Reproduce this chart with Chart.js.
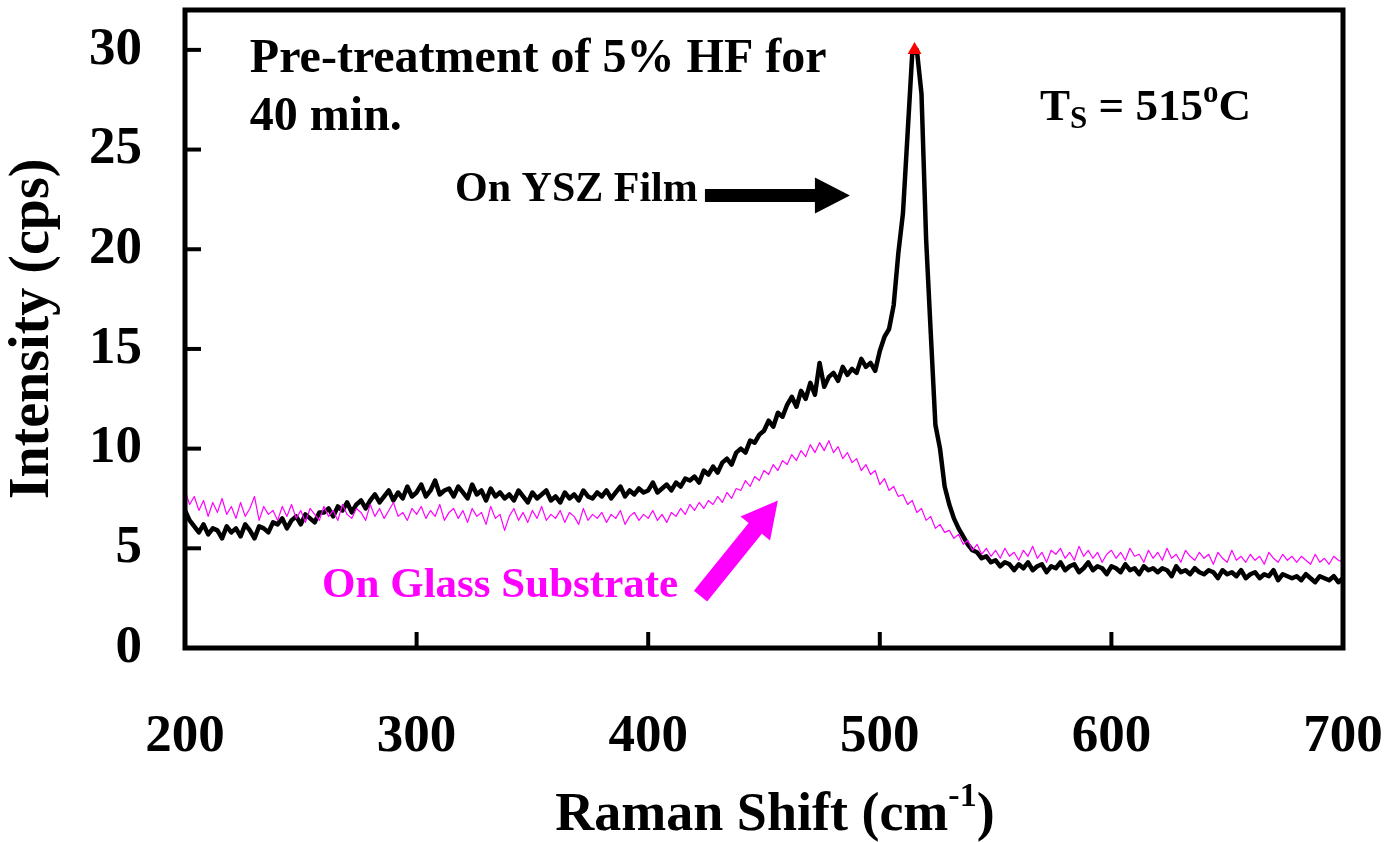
<!DOCTYPE html>
<html><head><meta charset="utf-8">
<script src="https://cdn.jsdelivr.net/npm/chart.js@4.4.1/dist/chart.umd.min.js"></script>
<style>html,body{margin:0;padding:0;background:#fff;overflow:hidden}canvas{display:block}</style>
</head><body>
<canvas id="c" width="1388" height="842"></canvas>
<script>
// Raman shift sampling grid (cm-1)
const shiftStart = 200;
const shiftStep = 2;

// On YSZ Film (black), intensity in cps, 200..700 step 2
const yszFilm = [
6.9, 6.4, 6.1, 5.8, 6.2, 5.7, 6.0, 5.9, 5.5, 6.1,
5.8, 6.0, 5.6, 6.2, 5.9, 5.5, 6.1, 6.0, 5.8, 6.3,
6.2, 6.5, 6.0, 6.4, 6.6, 6.2, 6.7, 6.5, 6.3, 6.8,
6.8, 7.0, 6.6, 7.1, 6.9, 7.3, 6.8, 7.2, 7.4, 7.0,
7.4, 7.7, 7.3, 7.6, 7.9, 7.4, 7.8, 7.5, 8.1, 7.6,
7.8, 8.2, 7.6, 7.9, 8.4, 7.7, 7.9, 8.0, 7.6, 8.1,
7.8, 7.5, 8.2, 7.7, 7.9, 7.4, 8.0, 7.6, 7.8, 7.5,
7.7, 7.4, 7.9, 7.6, 7.3, 7.8, 7.5, 7.7, 7.9, 7.4,
7.6, 7.3, 7.8, 7.5, 7.7, 7.4, 7.9, 7.6, 7.5, 7.8,
7.6, 7.9, 7.5, 7.8, 8.1, 7.6, 7.9, 7.7, 8.0, 7.8,
7.9, 8.3, 7.8, 8.0, 8.2, 7.9, 8.3, 8.1, 8.5, 8.4,
8.6, 8.3, 8.9, 8.7, 9.1, 8.8, 9.3, 9.5, 9.2, 9.8,
10.0, 9.8, 10.4, 10.3, 10.7, 10.9, 11.4, 11.1, 11.8, 11.6,
12.2, 12.6, 12.1, 12.9, 12.5, 13.3, 12.7, 14.3, 13.1, 13.6,
13.8, 13.4, 14.1, 13.7, 14.0, 13.8, 14.5, 14.1, 14.3, 13.9,
14.9, 15.6, 16.0, 17.2, 19.8, 21.8, 25.8, 29.8, 30.0, 27.8,
20.5, 15.8, 11.2, 10.0, 8.1, 7.2, 6.5, 6.0, 5.6, 5.2,
4.9, 4.8, 4.5, 4.6, 4.3, 4.4, 4.1, 4.3, 4.2, 3.9,
4.2, 4.0, 4.3, 3.9, 4.1, 4.2, 3.8, 4.1, 4.0, 4.3,
3.9, 4.1, 4.2, 3.8, 4.0, 4.3, 3.9, 4.1, 4.0, 3.7,
4.1, 4.0, 3.8, 4.2, 3.9, 4.0, 3.7, 4.1, 3.9, 4.0,
3.8, 4.0, 3.9, 3.6, 4.1, 3.8, 3.9, 3.7, 4.0, 3.8,
3.7, 3.9, 3.8, 3.5, 3.9, 3.7, 3.8, 3.6, 3.9, 3.5,
3.7, 3.8, 3.5, 3.7, 3.6, 3.9, 3.4, 3.7, 3.6, 3.5,
3.6, 3.4, 3.7, 3.5, 3.3, 3.6, 3.5, 3.4, 3.6, 3.3,
3.5
];

// On Glass Substrate (magenta), intensity in cps, 200..700 step 2
const glassSubstrate = [
7.9, 7.2, 7.6, 6.9, 7.4, 6.6, 7.3, 6.8, 7.5, 6.7,
7.1, 6.5, 7.3, 6.6, 7.0, 7.6, 6.4, 7.1, 6.7, 6.9,
6.4, 7.1, 6.6, 7.2, 6.5, 6.9, 6.3, 7.0, 6.7, 6.4,
7.1, 6.6, 6.9, 6.4, 7.2, 6.7, 6.5, 7.0, 6.8, 6.4,
7.2, 6.6, 7.0, 6.5, 6.9, 7.3, 6.6, 6.8, 6.4, 7.0,
6.7, 7.1, 6.5, 6.9, 6.6, 7.2, 6.4, 6.8, 7.0, 6.5,
6.9, 6.3, 7.0, 6.6, 6.8, 6.2, 7.1, 6.5, 6.7, 5.9,
6.6, 7.0, 6.4, 6.8, 6.3, 6.9, 6.5, 7.1, 6.4, 6.7,
6.5, 6.9, 6.3, 6.8, 6.6, 6.2, 7.0, 6.4, 6.7, 6.5,
6.8, 6.3, 6.7, 6.5, 6.9, 6.2, 6.6, 6.8, 6.4, 6.7,
6.5, 6.9, 6.4, 6.7, 6.3, 6.8, 6.6, 7.0, 6.7, 7.2,
6.9, 7.3, 7.0, 7.4, 7.2, 7.6, 7.3, 7.8, 7.5, 8.0,
7.9, 8.4, 8.1, 8.6, 8.4, 8.9, 8.7, 9.2, 8.9, 9.4,
9.2, 9.7, 9.4, 9.9, 9.6, 10.2, 9.8, 10.3, 9.9, 10.4,
9.8, 10.1, 9.5, 9.8, 9.3, 9.5, 8.9, 9.2, 8.7, 8.9,
8.2, 8.5, 7.9, 8.1, 7.6, 7.7, 7.2, 7.4, 6.8, 7.0,
6.4, 6.6, 6.0, 6.2, 5.8, 5.9, 5.5, 5.7, 5.2, 5.4,
4.9, 5.2, 4.7, 5.0, 4.6, 4.9, 4.5, 5.0, 4.6, 4.8,
4.4, 4.9, 4.6, 5.1, 4.5, 4.8, 4.3, 4.9, 4.7, 5.0,
4.5, 4.8, 4.4, 5.1, 4.6, 4.9, 4.5, 4.8, 4.3, 4.7,
4.9, 4.5, 4.8, 4.4, 5.0, 4.6, 4.7, 4.3, 4.9, 4.5,
4.8, 4.4, 5.0, 4.5, 4.7, 4.3, 4.9, 4.6, 4.4, 4.8,
4.5, 4.7, 4.2, 4.8, 4.5, 4.3, 4.9, 4.4, 4.6, 4.3,
4.7, 4.4, 4.6, 4.2, 4.8, 4.5, 4.3, 4.7, 4.4, 4.6,
4.3, 4.6, 4.4, 4.2, 4.7, 4.3, 4.5, 4.2, 4.6, 4.4,
4.3
];

// Peak marker
const peakShift = [515];
const peakIntensity = [30];

// Axis ranges / ticks
const xRange = [200, 700];
const xStep = 100;
const yRange = [0, 32];
const yStep = 5;

function toPoints(vals) {
  return vals.map((v, i) => ({ x: shiftStart + i * shiftStep, y: v }));
}

const SERIF = '"Liberation Serif","Times New Roman",Times,serif';
const MAGENTA = '#FF00FF';

function drawArrow(ctx, x1, y1, x2, y2, shaftW, headL, headW, color) {
  const ang = Math.atan2(y2 - y1, x2 - x1);
  const len = Math.hypot(x2 - x1, y2 - y1);
  ctx.save();
  ctx.translate(x1, y1);
  ctx.rotate(ang);
  ctx.fillStyle = color;
  ctx.beginPath();
  ctx.moveTo(0, -shaftW / 2);
  ctx.lineTo(len - headL, -shaftW / 2);
  ctx.lineTo(len - headL, -headW / 2);
  ctx.lineTo(len, 0);
  ctx.lineTo(len - headL, headW / 2);
  ctx.lineTo(len - headL, shaftW / 2);
  ctx.lineTo(0, shaftW / 2);
  ctx.closePath();
  ctx.fill();
  ctx.restore();
}

function runs(ctx, parts, x, y) {
  let cx = x;
  for (const [t, size, dy] of parts) {
    ctx.font = 'bold ' + size + 'px ' + SERIF;
    ctx.fillText(t, cx, y + dy);
    cx += ctx.measureText(t).width;
  }
  return cx - x;
}
function runsWidth(ctx, parts) {
  let w = 0;
  for (const [t, size] of parts) { ctx.font = 'bold ' + size + 'px ' + SERIF; w += ctx.measureText(t).width; }
  return w;
}

const framePlugin = {
  id: 'frame',
  afterDraw(chart) {
    const { ctx, chartArea: a, scales } = chart;
    const xs = scales.x, ys = scales.y;
    const X = v => xs.getPixelForValue(v), Y = v => ys.getPixelForValue(v);
    ctx.save();
    ctx.strokeStyle = '#000';
    ctx.lineWidth = 4;
    ctx.lineCap = 'butt';
    ys.ticks.forEach(t => {
      const y = Y(t.value);
      ctx.beginPath(); ctx.moveTo(a.left, y); ctx.lineTo(a.left + 16, y); ctx.stroke();
    });
    xs.ticks.forEach(t => {
      const x = X(t.value);
      ctx.beginPath(); ctx.moveTo(x, a.bottom); ctx.lineTo(x, a.bottom - 16); ctx.stroke();
    });
    ctx.lineWidth = 5;
    ctx.lineJoin = 'miter';
    ctx.strokeRect(a.left, a.top, a.right - a.left, a.bottom - a.top);

    ctx.fillStyle = '#000';
    ctx.textAlign = 'left';
    ctx.textBaseline = 'alphabetic';
    ctx.font = 'bold 48px ' + SERIF;
    ctx.fillText('Pre-treatment of 5% HF for', X(228), Y(28.9));
    ctx.fillText('40 min.', X(228), Y(26.0));

    runs(ctx, [['T', 45, 0], ['S', 31, 8], [' = 515', 45, 0], ['o', 31, -18], ['C', 45, 0]], X(569.2), Y(26.5));

    ctx.font = 'bold 42px ' + SERIF;
    ctx.fillText('On YSZ Film', X(316.6), Y(22.4));
    drawArrow(ctx, X(424.5), Y(22.7), X(487.1), Y(22.7), 13, 35, 36, '#000');

    ctx.fillStyle = MAGENTA;
    ctx.font = 'bold 43px ' + SERIF;
    ctx.fillText('On Glass Substrate', X(259.2), Y(2.55));
    drawArrow(ctx, X(422.6), Y(2.6), X(456), Y(7.4), 17, 36, 38, MAGENTA);

    ctx.fillStyle = '#000';
    const tparts = [['Raman Shift (cm', 54, 0], ['-1', 34, -24], [')', 54, 0]];
    const tw = runsWidth(ctx, tparts);
    runs(ctx, tparts, 775 - tw / 2, 830);
    ctx.restore();
  }
};

const tickFont = { family: SERIF, size: 53, weight: 'bold' };
function zeroPad(s) { s.paddingLeft = 0; s.paddingRight = 0; s.paddingTop = 0; s.paddingBottom = 0; }

new Chart(document.getElementById('c'), {
  type: 'line',
  data: {
    datasets: [
      { label: 'On Glass Substrate', data: toPoints(glassSubstrate), borderColor: MAGENTA, borderWidth: 1.2, pointRadius: 0, order: 1 },
      { label: 'On YSZ Film', data: toPoints(yszFilm), borderColor: '#000', borderWidth: 4.5, pointRadius: 0, order: 2 },
      { label: 'Peak', data: peakShift.map((x, i) => ({ x, y: peakIntensity[i] })), showLine: false, pointStyle: 'triangle', pointRadius: 8, backgroundColor: '#FF0000', borderColor: '#FF0000', borderWidth: 0, order: 0 }
    ]
  },
  options: {
    responsive: false,
    animation: false,
    devicePixelRatio: 1,
    layout: { padding: { top: 10, right: 45, left: 0, bottom: 0 } },
    plugins: { legend: { display: false }, tooltip: { enabled: false } },
    elements: { line: { tension: 0, borderJoinStyle: 'round', borderCapStyle: 'round' } },
    scales: {
      x: {
        type: 'linear', min: xRange[0], max: xRange[1],
        ticks: { stepSize: xStep, autoSkip: false, maxRotation: 0, minRotation: 0, padding: 58, color: '#000', font: tickFont },
        grid: { display: false, drawTicks: false },
        border: { display: false },
        afterFit(s) { s.height = 194; zeroPad(s); }
      },
      y: {
        min: yRange[0], max: yRange[1],
        ticks: { stepSize: yStep, includeBounds: false, padding: 43, color: '#000', font: tickFont },
        grid: { display: false, drawTicks: false },
        border: { display: false },
        title: { display: true, text: 'Intensity (cps)', color: '#000', font: { family: SERIF, size: 56, weight: 'bold' }, padding: { top: 0, bottom: 0 } },
        afterFit(s) { s.width = 185; zeroPad(s); }
      }
    }
  },
  plugins: [framePlugin]
});
</script>
</body></html>
